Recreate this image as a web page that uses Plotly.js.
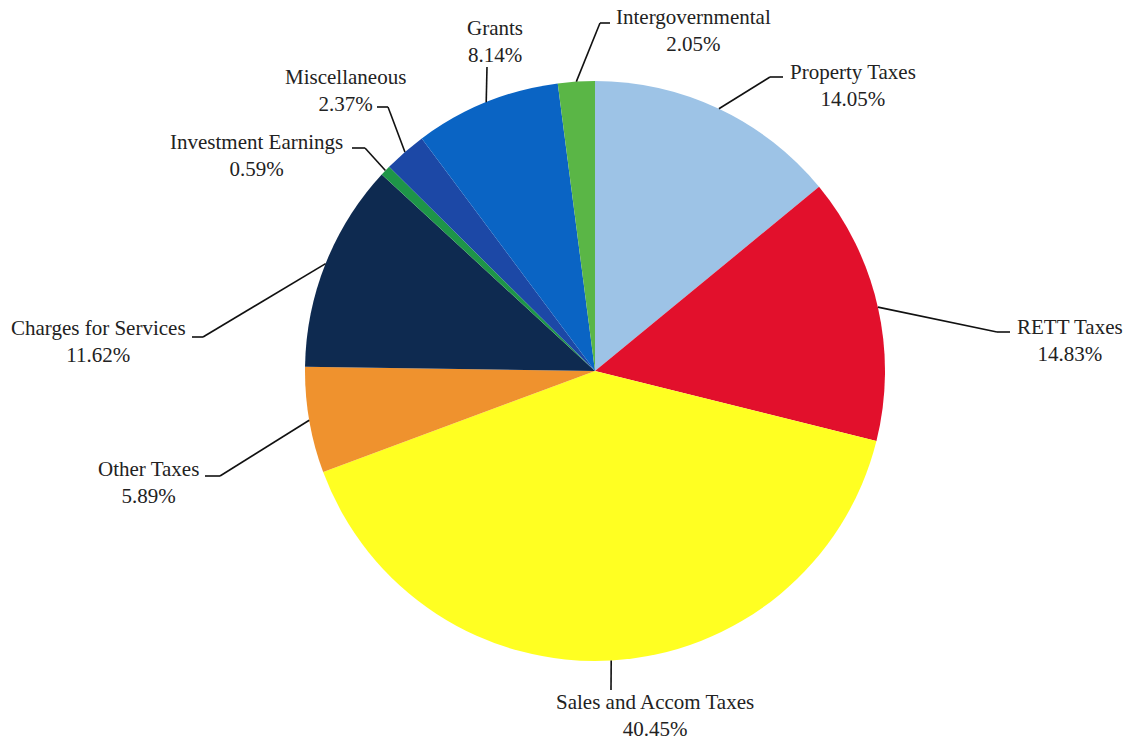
<!DOCTYPE html>
<html>
<head>
<meta charset="utf-8">
<script src="https://cdn.plot.ly/plotly-3.0.1.min.js"></script>
<style>html,body{margin:0;padding:0;background:#fff;}#chart{width:1131px;height:742px;}</style>
</head>
<body>
<div id="chart"></div>
<script>
// ---- data ----
const categories = ["Property Taxes", "RETT Taxes", "Sales and Accom Taxes", "Other Taxes",
  "Charges for Services", "Investment Earnings", "Miscellaneous", "Grants", "Intergovernmental"];
const shares = [14.05, 14.83, 40.45, 5.89, 11.62, 0.59, 2.37, 8.14, 2.05];

// ---- styles ----
const sliceColors = ["#9DC3E6", "#E2102C", "#FFFF22", "#EF922E", "#0E2A50",
  "#1E9548", "#1C48A6", "#0A64C4", "#5AB646"];

// ---- layout geometry (pixels) ----
const W = 1131, H = 742;
const CX = 595, CY = 371, R = 290;
// label placement (elbow, line end, label centre) per category, in pixels
const labelPlacement = {
  "Property Taxes":        {elbow: [770, 77],  end: [783, 77],  text: [853, 85]},
  "RETT Taxes":            {elbow: [997, 332], end: [1010, 332], text: [1070, 340]},
  "Sales and Accom Taxes": {elbow: [611, 690], end: [611, 690], text: [655, 715]},
  "Other Taxes":           {elbow: [220, 476], end: [205, 476], text: [148, 482]},
  "Charges for Services":  {elbow: [203, 337], end: [192, 337], text: [98, 342]},
  "Investment Earnings":   {elbow: [365, 148], end: [352, 148], text: [256, 155]},
  "Miscellaneous":         {elbow: [388, 107], end: [377, 107], text: [345, 91]},
  "Grants":                {elbow: [487, 67],  end: [487, 67],  text: [495, 42]},
  "Intergovernmental":     {elbow: [600, 23],  end: [610, 23],  text: [693, 30]}
};

const px = x => x / W;
const py = y => 1 - y / H;

const total = shares.reduce((a, b) => a + b, 0);
let cum = 0;
const shapes = [], annotations = [];
categories.forEach((cat, i) => {
  const mid = (cum + shares[i] / 2) / total;
  cum += shares[i];
  const ang = mid * 2 * Math.PI; // clockwise from 12 o'clock
  const ax = CX + R * Math.sin(ang), ay = CY - R * Math.cos(ang);
  const p = labelPlacement[cat];
  const lineStyle = {color: "#111", width: 1.6};
  shapes.push({type: "line", xref: "paper", yref: "paper",
    x0: px(ax), y0: py(ay), x1: px(p.elbow[0]), y1: py(p.elbow[1]), line: lineStyle});
  if (p.end[0] !== p.elbow[0] || p.end[1] !== p.elbow[1]) {
    shapes.push({type: "line", xref: "paper", yref: "paper",
      x0: px(p.elbow[0]), y0: py(p.elbow[1]), x1: px(p.end[0]), y1: py(p.end[1]), line: lineStyle});
  }
  annotations.push({xref: "paper", yref: "paper", x: px(p.text[0]), y: py(p.text[1]),
    xanchor: "center", yanchor: "middle", showarrow: false, align: "center",
    text: cat + "<br>" + shares[i].toFixed(2) + "%",
    font: {family: "Liberation Serif, Times New Roman, serif", size: 21, color: "#222"}});
});

const trace = {
  type: "pie",
  labels: categories,
  values: shares,
  sort: false,
  direction: "clockwise",
  rotation: 0,
  textinfo: "none",
  hoverinfo: "label+percent",
  marker: {colors: sliceColors, line: {width: 0}},
  domain: {x: [px(CX - R), px(CX + R)], y: [py(CY + R), py(CY - R)]},
  showlegend: false
};

const layout = {
  width: W, height: H,
  margin: {l: 0, r: 0, t: 0, b: 0},
  paper_bgcolor: "#fff",
  plot_bgcolor: "#fff",
  showlegend: false,
  shapes: shapes,
  annotations: annotations
};

Plotly.newPlot("chart", [trace], layout, {displayModeBar: false, staticPlot: true});
</script>
</body>
</html>
